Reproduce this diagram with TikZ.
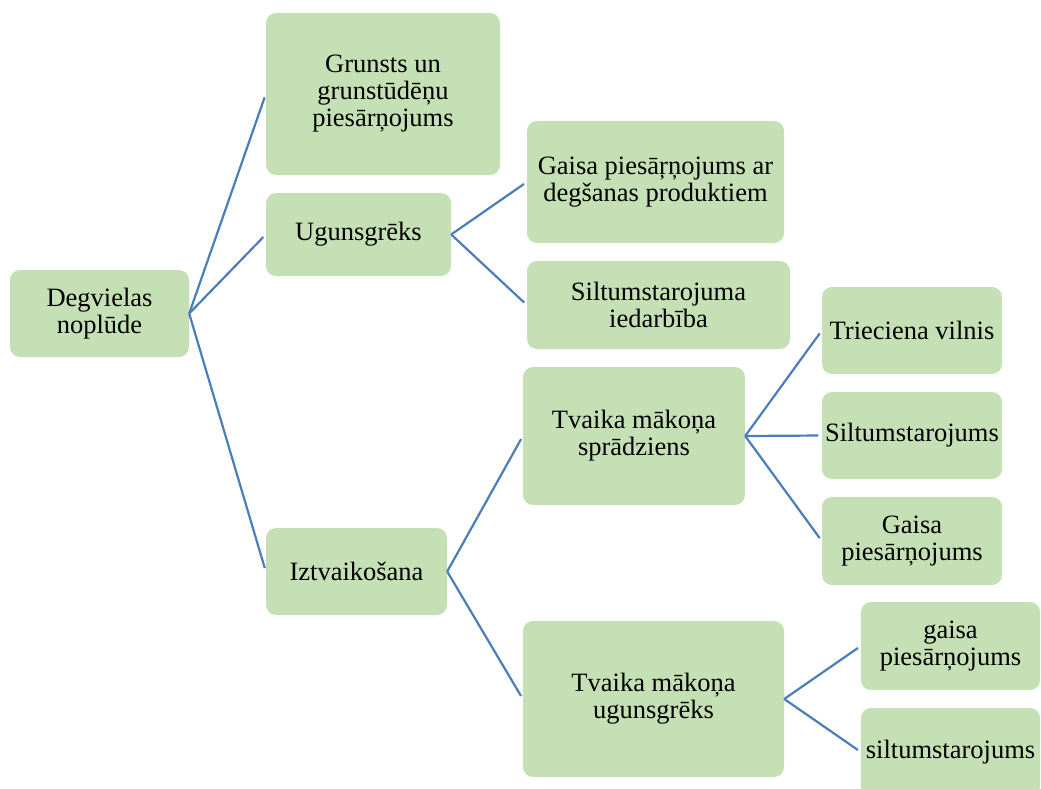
\documentclass[tikz,border=0pt]{standalone}
\usepackage{fontspec}
\setmainfont{Liberation Serif}
\definecolor{boxgreen}{HTML}{C5E0B4}
\definecolor{linkblue}{HTML}{4A7EBB}
\begin{document}
\begin{tikzpicture}[x=1pt,y=-1pt,
  box/.style={fill=boxgreen,draw=none,rounded corners=10pt,inner sep=0pt,
    align=center,font=\fontsize{26.5}{27}\selectfont},
  link/.style={draw=linkblue,line width=2.2pt,shorten >=3.5pt}]
\useasboundingbox (0,0) rectangle (1041,789);
\newcommand{\bx}[6]{\node[box,minimum width=#4-#2,minimum height=#5-#3] (#1) at ({(#2+#4)/2},{(#3+#5)/2}) {#6};}
\bx{deg}{10}{270}{189}{357}{Degvielas\\noplūde}
\bx{gr}{266}{13}{500}{175}{Grunsts un\\grunstūdēņu\\piesārņojums}
\bx{ug}{266}{193}{451}{276}{Ugunsgrēks}
\bx{iz}{266}{528}{447}{615}{Iztvaikošana}
\bx{gp}{527}{121}{784}{243}{Gaisa piesāŗņojums ar\\degšanas produktiem}
\bx{si}{527}{261}{790}{349}{Siltumstarojuma\\iedarbība}
\bx{ts}{523}{367}{745}{505}{Tvaika mākoņa\\sprādziens}
\bx{tu}{523}{621}{784}{777}{Tvaika mākoņa\\ugunsgrēks}
\bx{tr}{822}{287}{1002}{374}{Trieciena vilnis}
\bx{sm}{822}{392}{1002}{479}{Siltumstarojums}
\bx{ga}{822}{497}{1002}{585}{Gaisa\\piesārņojums}
\bx{gl}{861}{602}{1040}{690}{gaisa\\piesārņojums}
\bx{sl}{861}{708}{1040}{796}{siltumstarojums}
\foreach \a/\b in {deg/gr,deg/ug,deg/iz,ug/gp,ug/si,iz/ts,iz/tu,ts/tr,ts/sm,ts/ga,tu/gl,tu/sl}
  \draw[link] (\a.east) -- (\b.west);
\end{tikzpicture}
\end{document}
